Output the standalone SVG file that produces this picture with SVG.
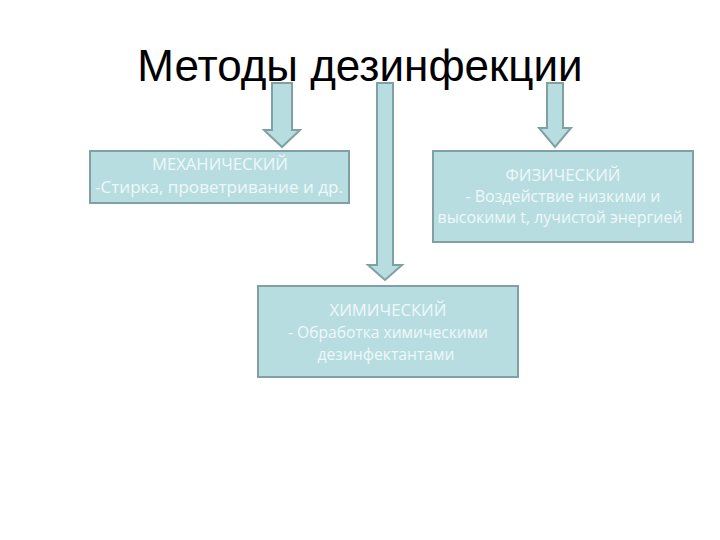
<svg xmlns="http://www.w3.org/2000/svg" width="720" height="540" viewBox="0 0 720 540">
<style>
.box{fill:#b8dde1;stroke:#80a0a4;stroke-width:2}
.arr{fill:#b8dde1;stroke:#80a0a4;stroke-width:2;stroke-linejoin:miter}
.t{font-family:"Open Sans","Liberation Sans",sans-serif;font-size:16px;fill:#eef8f9;text-anchor:middle}
.title{font-family:"Liberation Sans",Arial,sans-serif;font-size:44px;fill:#000;text-anchor:middle}
</style>
<rect width="720" height="540" fill="#fff"/>
<text class="title" x="360" y="81">Методы дезинфекции</text>
<g id="connectors">
<path class="arr" d="M272,83 H292 V130 H300 L282,147 L264,130 H272 Z"/>
<path class="arr" d="M377,83 H393 V265 H402 L385,280 L368,265 H377 Z"/>
<path class="arr" d="M547,83 H563 V128 H571 L555,147 L539,128 H547 Z"/>
</g>
<g id="mech">
<rect class="box" x="90" y="151" width="259" height="52"/>
<text class="t" x="220" y="170" textLength="136" lengthAdjust="spacingAndGlyphs">МЕХАНИЧЕСКИЙ</text>
<text class="t" x="219" y="193" textLength="248" lengthAdjust="spacingAndGlyphs">-Стирка, проветривание и др.</text>
</g>
<g id="phys">
<rect class="box" x="433" y="151" width="260" height="91"/>
<text class="t" x="563" y="181" textLength="115" lengthAdjust="spacingAndGlyphs">ФИЗИЧЕСКИЙ</text>
<text class="t" x="563" y="202" textLength="195" lengthAdjust="spacingAndGlyphs">- Воздействие низкими и</text>
<text class="t" x="560" y="223" textLength="245" lengthAdjust="spacingAndGlyphs">высокими t, лучистой энергией</text>
</g>
<g id="chem">
<rect class="box" x="258" y="286" width="260" height="91"/>
<text class="t" x="388" y="316" textLength="117" lengthAdjust="spacingAndGlyphs">ХИМИЧЕСКИЙ</text>
<text class="t" x="388" y="338" textLength="200" lengthAdjust="spacingAndGlyphs">- Обработка химическими</text>
<text class="t" x="386" y="360" textLength="137" lengthAdjust="spacingAndGlyphs">дезинфектантами</text>
</g>
</svg>
